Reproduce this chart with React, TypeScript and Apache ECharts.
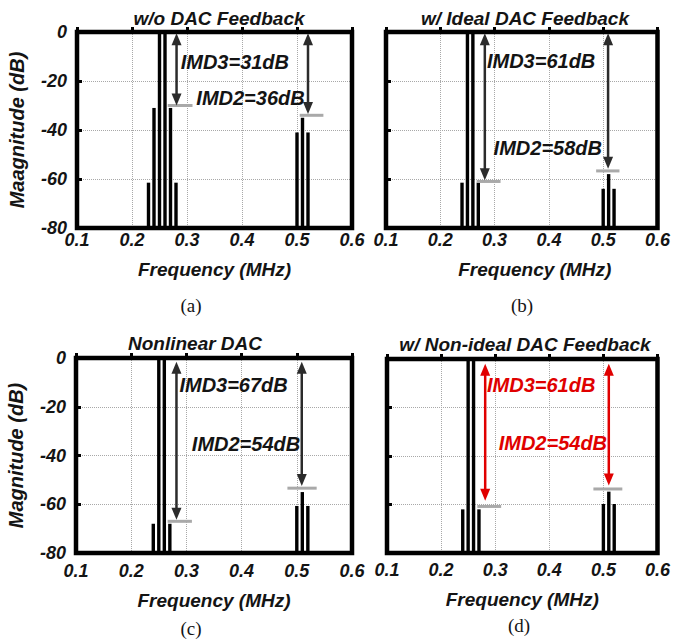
import React, { useEffect, useRef } from "react";
import * as echarts from "echarts";

// ---- axis ticks ----
const xMin = 0.1;
const xMax = 0.6;
const xStep = 0.1;
const yMin = -80;
const yMax = 0;
const yStep = 20;

// ---- spectra: frequency (MHz) and magnitude (dB) ----
const freqA = [0.23, 0.24, 0.25, 0.26, 0.27, 0.28, 0.5, 0.51, 0.52];
const magA = [-61.5, -31, 0, 0, -31, -61.5, -41, -35, -41];

const freqB = [0.24, 0.25, 0.26, 0.27, 0.5, 0.51, 0.52];
const magB = [-61.5, 0, 0, -61.5, -64, -58, -64];

const freqC = [0.24, 0.25, 0.26, 0.27, 0.5, 0.51, 0.52];
const magC = [-68, 0, 0, -68, -60.7, -55, -60.7];

const freqD = [0.24, 0.25, 0.26, 0.27, 0.5, 0.51, 0.52];
const magD = [-62, 0, 0, -62, -59.8, -54.7, -59.8];

// ---- gray reference levels: [from freq, to freq, level dB] ----
const refA = [[0.265, 0.31, -30], [0.505, 0.548, -34]];
const refB = [[0.267, 0.311, -61], [0.487, 0.53, -56.7]];
const refC = [[0.266, 0.31, -67], [0.483, 0.536, -53.4]];
const refD = [[0.267, 0.311, -60.8], [0.4815, 0.535, -53.6]];

// ---- double arrows: [freq, top dB, bottom dB] ----
const arrowA = [[0.281, -0.5, -30], [0.52, -0.5, -33.5]];
const arrowB = [[0.282, -0.5, -60.5], [0.509, -0.5, -55.8]];
const arrowC = [[0.282, -1.5, -66.4], [0.509, -1.5, -52.5]];
const arrowD = [[0.2815, -2, -58.5], [0.51, -2, -52.2]];

// ---- annotation texts and their anchor (freq, dB) ----
const noteTextA = ["IMD3=31dB", "IMD2=36dB"];
const noteAtA = [[0.387, -12.2], [0.4155, -26.9]];
const noteTextB = ["IMD3=61dB", "IMD2=58dB"];
const noteAtB = [[0.3857, -11.8], [0.398, -47.2]];
const noteTextC = ["IMD3=67dB", "IMD2=54dB"];
const noteAtC = [[0.3855, -11.1], [0.408, -35.2]];
const noteTextD = ["IMD3=61dB", "IMD2=54dB"];
const noteAtD = [[0.385, -10.9], [0.4066, -34.6]];

const titles = ["w/o DAC Feedback", "w/ Ideal DAC Feedback", "Nonlinear DAC", "w/ Non-ideal DAC Feedback"];
const captions = ["(a)", "(b)", "(c)", "(d)"];
const yNames = ["Maagnitude (dB)", "", "Magnitude (dB)", ""];
const xName = "Frequency (MHz)";

const SANS = '"Liberation Sans", Arial, Helvetica, sans-serif';
const SERIF = '"Liberation Serif", "Times New Roman", serif';
const INK = "#141414";
const RED = "#e00000";

const layout = [
  { grid: { left: 77, top: 32, width: 275, height: 196 }, title: [219, 18], caption: [191, 305], xNamePad: 0, xLabelMargin: 3, yNameGap: 50, arrowColor: "#2b2b2b", noteColor: INK },
  { grid: { left: 386, top: 32, width: 276, height: 196 }, title: [525, 18], caption: [522, 305], xNamePad: 26, xLabelMargin: 3, yNameGap: 50, arrowColor: "#2b2b2b", noteColor: INK },
  { grid: { left: 76, top: 358, width: 276, height: 195 }, title: [195, 343], caption: [191, 628], xNamePad: 0, xLabelMargin: 9, yNameGap: 50, arrowColor: "#2b2b2b", noteColor: INK },
  { grid: { left: 387, top: 359, width: 275, height: 194 }, title: [525, 344], caption: [519, 625], xNamePad: 0, xLabelMargin: 8, yNameGap: 50, arrowColor: RED, noteColor: RED },
];

const panels = [
  { freq: freqA, mag: magA, ref: refA, arrows: arrowA, noteText: noteTextA, noteAt: noteAtA },
  { freq: freqB, mag: magB, ref: refB, arrows: arrowB, noteText: noteTextB, noteAt: noteAtB },
  { freq: freqC, mag: magC, ref: refC, arrows: arrowC, noteText: noteTextC, noteAt: noteAtC },
  { freq: freqD, mag: magD, ref: refD, arrows: arrowD, noteText: noteTextD, noteAt: noteAtD },
];

const boldItalic = { fontFamily: SANS, fontWeight: "bold", fontStyle: "italic", color: INK };

function buildOption() {
  const grid: any[] = [];
  const xAxis: any[] = [];
  const yAxis: any[] = [];
  const series: any[] = [];
  const graphic: any[] = [];

  panels.forEach((p, i) => {
    const L = layout[i];
    grid.push({ ...L.grid, show: false, containLabel: false });
    xAxis.push({
      type: "value",
      gridIndex: i,
      min: xMin,
      max: xMax,
      interval: xStep,
      name: xName,
      nameLocation: "middle",
      nameGap: 32 + (L.xLabelMargin - 3),
      nameTextStyle: { ...boldItalic, fontSize: 19, padding: [0, 0, 0, L.xNamePad] },
      axisLine: { show: false },
      axisTick: { show: true, inside: true, length: 5, lineStyle: { color: "#000", width: 3 } },
      axisLabel: { ...boldItalic, margin: L.xLabelMargin, fontSize: 18, formatter: (v: number) => v.toFixed(1) },
      splitLine: { show: true, lineStyle: { type: "dotted", color: "#a8a8a8", width: 1 } },
    });
    yAxis.push({
      type: "value",
      gridIndex: i,
      min: yMin,
      max: yMax,
      interval: yStep,
      name: yNames[i],
      nameLocation: "middle",
      nameGap: L.yNameGap,
      nameTextStyle: { ...boldItalic, fontSize: 20 },
      axisLine: { show: false },
      axisTick: { show: true, inside: true, length: 5, lineStyle: { color: "#000", width: 3 } },
      axisLabel: { ...boldItalic, show: i % 2 === 0, margin: 10, fontSize: 18 },
      splitLine: { show: true, lineStyle: { type: "dotted", color: "#a8a8a8", width: 1 } },
    });

    // plot frame
    series.push({
      type: "custom",
      xAxisIndex: i,
      yAxisIndex: i,
      data: [[xMin, yMin, xMax, yMax]],
      encode: { x: [0, 2], y: [1, 3] },
      z: 2,
      silent: true,
      renderItem: (params: any, api: any) => {
        const a = api.coord([api.value(0), api.value(3)]);
        const b = api.coord([api.value(2), api.value(1)]);
        return { type: "rect", shape: { x: a[0], y: a[1], width: b[0] - a[0], height: b[1] - a[1] }, style: { fill: "none", stroke: "#000", lineWidth: 4.5 } };
      },
    });

    // spectral lines
    series.push({
      type: "custom",
      xAxisIndex: i,
      yAxisIndex: i,
      data: p.freq.map((f, k) => [f, p.mag[k]]),
      encode: { x: 0, y: 1 },
      z: 3,
      renderItem: (params: any, api: any) => {
        const x = api.value(0);
        const y = api.value(1);
        const p0 = api.coord([x, yMin]);
        const p1 = api.coord([x, y]);
        return { type: "rect", shape: { x: p0[0] - 1.7, y: p1[1], width: 3.4, height: p0[1] - p1[1] }, style: { fill: "#000" } };
      },
    });

    // gray reference levels
    series.push({
      type: "custom",
      xAxisIndex: i,
      yAxisIndex: i,
      data: p.ref,
      encode: { x: [0, 1], y: 2 },
      z: 4,
      renderItem: (params: any, api: any) => {
        const a = api.coord([api.value(0), api.value(2)]);
        const b = api.coord([api.value(1), api.value(2)]);
        return { type: "line", shape: { x1: a[0], y1: a[1], x2: b[0], y2: b[1] }, style: { stroke: "#a9a9a9", lineWidth: 3 } };
      },
    });

    // double arrows
    const col = L.arrowColor;
    series.push({
      type: "custom",
      xAxisIndex: i,
      yAxisIndex: i,
      data: p.arrows,
      encode: { x: 0, y: [1, 2] },
      z: 5,
      renderItem: (params: any, api: any) => {
        const x = api.value(0);
        const pt = api.coord([x, api.value(1)]);
        const pb = api.coord([x, api.value(2)]);
        const hw = 5;
        const hl = 12;
        return {
          type: "group",
          children: [
            { type: "line", shape: { x1: pt[0], y1: pt[1] + hl - 1, x2: pb[0], y2: pb[1] - hl + 1 }, style: { stroke: col, lineWidth: 2.5 } },
            { type: "polygon", shape: { points: [[pt[0], pt[1]], [pt[0] - hw, pt[1] + hl], [pt[0] + hw, pt[1] + hl]] }, style: { fill: col } },
            { type: "polygon", shape: { points: [[pb[0], pb[1]], [pb[0] - hw, pb[1] - hl], [pb[0] + hw, pb[1] - hl]] }, style: { fill: col } },
          ],
        };
      },
    });

    // annotation texts
    const nc = L.noteColor;
    series.push({
      type: "custom",
      xAxisIndex: i,
      yAxisIndex: i,
      data: p.noteAt,
      encode: { x: 0, y: 1 },
      z: 6,
      renderItem: (params: any, api: any) => {
        const pt = api.coord([api.value(0), api.value(1)]);
        return {
          type: "text",
          x: pt[0],
          y: pt[1],
          style: {
            text: p.noteText[params.dataIndex],
            fill: nc,
            fontFamily: SANS,
            fontSize: 20,
            fontWeight: "bold",
            fontStyle: "italic",
            align: "center",
            verticalAlign: "middle",
          },
        };
      },
    });

    graphic.push({
      type: "text",
      x: L.title[0],
      y: L.title[1],
      style: { text: titles[i], fill: INK, fontFamily: SANS, fontSize: 19, fontWeight: "bold", fontStyle: "italic", align: "center", verticalAlign: "middle" },
    });
    graphic.push({
      type: "text",
      x: L.caption[0],
      y: L.caption[1],
      style: { text: captions[i], fill: INK, fontFamily: SERIF, fontSize: 19, align: "center", verticalAlign: "middle" },
    });
  });

  return { animation: false, backgroundColor: "#fff", grid, xAxis, yAxis, series, graphic };
}

export default function App() {
  const ref = useRef<HTMLDivElement | null>(null);
  useEffect(() => {
    document.body.style.margin = "0";
    if (!ref.current) return;
    const chart = echarts.init(ref.current, undefined, { renderer: "svg" });
    chart.setOption(buildOption() as any);
    return () => chart.dispose();
  }, []);
  return <div ref={ref} style={{ width: 673, height: 639 }} />;
}
